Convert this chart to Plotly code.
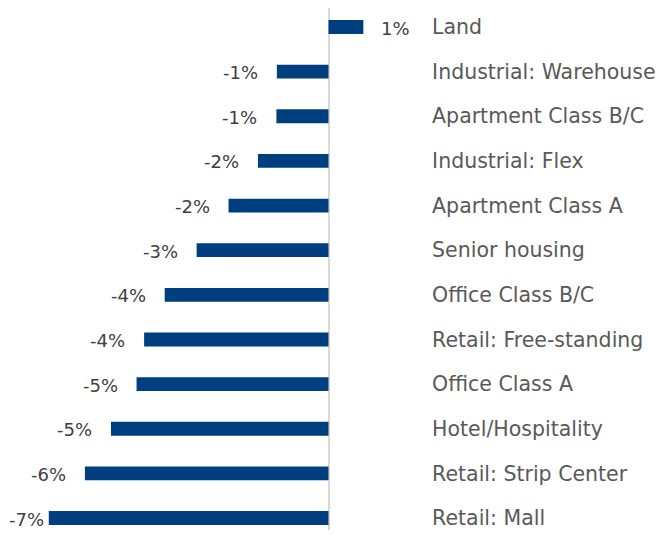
import plotly.graph_objects as go

categories = ["Land", "Industrial: Warehouse", "Apartment Class B/C", "Industrial: Flex",
              "Apartment Class A", "Senior housing", "Office Class B/C", "Retail: Free-standing",
              "Office Class A", "Hotel/Hospitality", "Retail: Strip Center", "Retail: Mall"]
values = [0.83, -1.23, -1.24, -1.68, -2.38, -3.14, -3.90, -4.39, -4.57, -5.18, -5.80, -6.66]
labels = ["1%", "-1%", "-1%", "-2%", "-2%", "-3%", "-4%", "-4%", "-5%", "-5%", "-6%", "-7%"]

BAR = "#003f7f"
FONT = "DejaVu Sans"
PX = 42.0  # pixels per percentage point
ROW = 44.64  # pixels per category row

fig = go.Figure(go.Bar(
    x=values, y=categories, orientation="h",
    marker=dict(color=BAR, line=dict(width=0)),
    width=0.31, hoverinfo="skip",
))

for v, c, t in zip(values, categories, labels):
    neg = v < 0
    shift = -17 if neg else 16
    if v < -6.5:
        shift = -3
    fig.add_annotation(
        x=v, y=c, text=t, showarrow=False, xref="x", yref="y",
        xanchor="right" if neg else "left", xshift=shift, yshift=-1,
        font=dict(family=FONT, size=18, color="#404040"),
    )

n = len(categories)
H = 522
top = n - 1 + 19 / ROW
fig.update_layout(
    width=651, height=H,
    margin=dict(l=0, r=236, t=0, b=0),
    paper_bgcolor="white", plot_bgcolor="white",
    showlegend=False,
    xaxis=dict(range=[-320.5 / PX, 94.5 / PX], showgrid=False, showticklabels=False,
               zeroline=True, zerolinecolor="#d9d9d9", zerolinewidth=2, fixedrange=True),
    yaxis=dict(categoryorder="array", categoryarray=categories[::-1],
               range=[top - H / ROW, top], side="right", showgrid=False,
               ticks="outside", ticklen=4, tickcolor="rgba(0,0,0,0)",
               showline=False, automargin=False,
               tickfont=dict(family=FONT, size=20.5, color="#595959")),
)

fig.write_html("out.html")
